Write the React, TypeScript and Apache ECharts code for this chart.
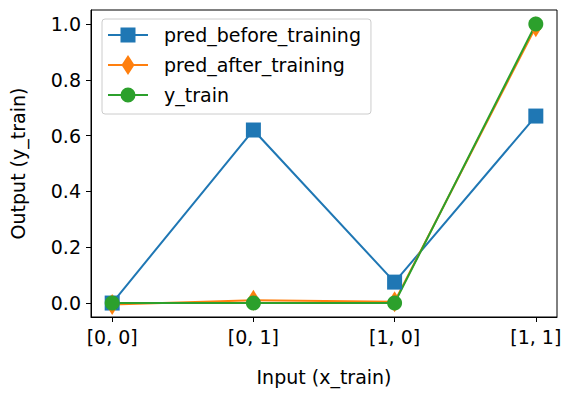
import React, { useEffect, useRef } from "react";
import * as echarts from "echarts";

const xLabels = ["[0, 0]", "[0, 1]", "[1, 0]", "[1, 1]"];
const xPositions = [0, 1, 2, 3];
const predBefore = [0.0, 0.62, 0.075, 0.67];
const predAfter = [-0.005, 0.01, 0.005, 0.99];
const yTrain = [0, 0, 0, 1];
const yTicks = [0, 0.2, 0.4, 0.6, 0.8, 1.0];

const seriesNames = ["pred_before_training", "pred_after_training", "y_train"];
const colors = ["#1f77b4", "#ff7f0e", "#2ca02c"];

const FONT = "DejaVu Sans";

const bbox = "M0,0 M40,20 ";
const lineP = "M0,9 L40,9 L40,11 L0,11 Z ";
const icons = [
  "path://" + bbox + lineP + "M12.5,2.5 L27.5,2.5 L27.5,17.5 L12.5,17.5 Z",
  "path://" + bbox + lineP + "M20,0 L26.5,10 L20,20 L13.5,10 Z",
  "path://" + bbox + lineP + "M12.5,10 A7.5,7.5 0 1,1 27.5,10 A7.5,7.5 0 1,1 12.5,10 Z",
];

export default function App() {
  const ref = useRef<HTMLDivElement>(null);
  useEffect(() => {
    if (!ref.current) return;
    const chart = echarts.init(ref.current, undefined, { renderer: "svg" });
    const toPairs = (arr: number[]) => arr.map((v, i) => [xPositions[i], v]);
    chart.setOption({
      animation: false,
      backgroundColor: "#ffffff",
      grid: {
        left: 91,
        right: 14,
        top: 10,
        bottom: 80,
        show: true,
        borderColor: "#000",
        borderWidth: 1,
        backgroundColor: "transparent",
      },
      xAxis: {
        type: "value",
        min: -0.15,
        max: 3.15,
        name: "Input (x_train)",
        nameLocation: "middle",
        nameGap: 50,
        nameTextStyle: { fontFamily: FONT, fontSize: 19, color: "#000" },
        axisLine: { show: true, onZero: false, lineStyle: { color: "#000", width: 1 } },
        axisTick: {
          show: true,
          length: 5,
          inside: false,
          customValues: xPositions,
          lineStyle: { color: "#000", width: 1 },
        },
        axisLabel: {
          customValues: xPositions,
          margin: 10,
          fontFamily: FONT,
          fontSize: 19,
          color: "#000",
          formatter: (v: number) => xLabels[Math.round(v)] ?? "",
        },
        splitLine: { show: false },
      },
      yAxis: {
        type: "value",
        min: -0.05,
        max: 1.05,
        name: "Output (y_train)",
        nameLocation: "middle",
        nameGap: 64,
        nameTextStyle: { fontFamily: FONT, fontSize: 19, color: "#000" },
        axisLine: { show: true, onZero: false, lineStyle: { color: "#000", width: 1 } },
        axisTick: {
          show: true,
          length: 5,
          inside: false,
          customValues: yTicks,
          lineStyle: { color: "#000", width: 1 },
        },
        axisLabel: {
          customValues: yTicks,
          margin: 10,
          fontFamily: FONT,
          fontSize: 19,
          color: "#000",
          formatter: (v: number) => v.toFixed(1),
        },
        splitLine: { show: false },
      },
      legend: {
        orient: "vertical",
        left: 102,
        top: 19,
        padding: [6, 10, 9, 6],
        itemWidth: 40,
        itemHeight: 20,
        itemGap: 10,
        backgroundColor: "rgba(255,255,255,0.8)",
        borderColor: "#cccccc",
        borderWidth: 1,
        borderRadius: 3,
        itemStyle: { borderWidth: 0 },
        textStyle: {
          fontFamily: FONT,
          fontSize: 19,
          color: "#000",
          lineHeight: 20,
          padding: [0, 0, 0, 11],
        },
        data: seriesNames.map((n, i) => ({ name: n, icon: icons[i] })),
      },
      series: [
        {
          name: seriesNames[0],
          type: "line",
          data: toPairs(predBefore),
          symbol: "rect",
          symbolSize: 15,
          lineStyle: { color: colors[0], width: 2 },
          itemStyle: { color: colors[0], borderWidth: 0 },
        },
        {
          name: seriesNames[1],
          type: "line",
          data: toPairs(predAfter),
          symbol: "diamond",
          symbolSize: [13, 21],
          lineStyle: { color: colors[1], width: 2 },
          itemStyle: { color: colors[1], borderWidth: 0 },
        },
        {
          name: seriesNames[2],
          type: "line",
          data: toPairs(yTrain),
          symbol: "circle",
          symbolSize: 15,
          lineStyle: { color: colors[2], width: 2 },
          itemStyle: { color: colors[2], borderWidth: 0 },
        },
      ],
    });
    return () => chart.dispose();
  }, []);
  return (
    <div
      ref={ref}
      style={{ position: "fixed", left: 0, top: 0, width: 571, height: 397 }}
    />
  );
}
